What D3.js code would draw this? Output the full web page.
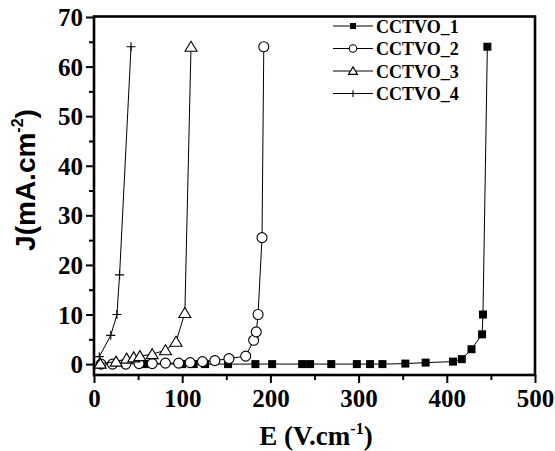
<!DOCTYPE html>
<html>
<head>
<meta charset="utf-8">
<script src="https://cdn.jsdelivr.net/npm/d3@7"></script>
<style>
  body { margin: 0; background: #fff; }
  svg { display: block; }
  .tick text { font-family: "Liberation Serif", "Times New Roman", serif; font-weight: bold; }
</style>
</head>
<body>
<div class="chartCont"></div>
<script>
var w = 555;
var h = 451;

// data: E (V/cm) and J (mA/cm2)
const seriesNames = ["CCTVO_1", "CCTVO_2", "CCTVO_3", "CCTVO_4"];

const e1 = [57, 100, 113, 126, 152, 183, 202, 236, 245, 269, 298, 313, 327, 353, 376, 407, 417, 428, 440, 441, 446];
const j1 = [0, 0, 0, 0, 0, 0, 0, 0, 0, 0, 0, 0, 0, 0.1, 0.3, 0.5, 1.0, 3.0, 6.0, 10, 64];

const e2 = [8, 21, 36, 51, 66, 81, 96, 109, 123, 137, 153, 172, 181, 184, 186, 190.5, 192.5];
const j2 = [0, 0, 0, 0.1, 0.1, 0.2, 0.2, 0.3, 0.5, 0.7, 1.1, 1.6, 4.8, 6.5, 10, 25.5, 64];

const e3 = [7, 25, 37, 45, 52, 66, 81, 93, 103, 110];
const j3 = [0.1, 0.5, 1.1, 1.35, 1.6, 2.0, 2.8, 4.5, 10.3, 64];

const e4 = [6, 19, 26, 29, 42];
const j4 = [1.5, 5.8, 10, 18, 64];

const xTicks = [0, 100, 200, 300, 400, 500];
const yTicks = [0, 10, 20, 30, 40, 50, 60, 70];

const series = [
  {name: seriesNames[0], e: e1, j: j1, mark: "square"},
  {name: seriesNames[1], e: e2, j: j2, mark: "circle"},
  {name: seriesNames[2], e: e3, j: j3, mark: "triangle"},
  {name: seriesNames[3], e: e4, j: j4, mark: "plus"}
];

var svg = d3.select(".chartCont").append("svg")
    .attr("width", w)
    .attr("height", h);

const x = d3.scaleLinear().domain([0, 500]).range([94, 535]);
const y = d3.scaleLinear().domain([-2.2, 70]).range([375, 17]);

// marker shapes
function markPath(kind, s) {
  if (kind === "triangle") return "M0," + (-5.5 * s) + "L" + (6 * s) + "," + (4.5 * s) + "L" + (-6 * s) + "," + (4.5 * s) + "Z";
  if (kind === "plus") return "M" + (-4.5 * s) + ",0H" + (4.5 * s) + "M0," + (-4.5 * s) + "V" + (4.5 * s);
  return null;
}

function drawMark(g, kind, s) {
  if (kind === "square") {
    g.append("rect").attr("x", -4 * s).attr("y", -4 * s)
      .attr("width", 8 * s).attr("height", 8 * s).attr("fill", "#000");
  } else if (kind === "circle") {
    g.append("circle").attr("r", 5 * s).attr("fill", "#fff")
      .attr("stroke", "#000").attr("stroke-width", 1.1);
  } else {
    g.append("path").attr("d", markPath(kind, s))
      .attr("fill", kind === "triangle" ? "#fff" : "none")
      .attr("stroke", "#000").attr("stroke-width", 1.1);
  }
}

// axes (ticks outward, bottom & left only)
const xAxis = svg.append("g")
    .attr("transform", "translate(0,375)")
    .call(d3.axisBottom(x).tickValues(xTicks).tickSize(8).tickPadding(6).tickFormat(d3.format("d")));
const xMinor = svg.append("g")
    .attr("transform", "translate(0,375)")
    .call(d3.axisBottom(x).tickValues([50, 150, 250, 350, 450]).tickSize(5).tickFormat(""));

const yAxis = svg.append("g")
    .attr("transform", "translate(94,0)")
    .call(d3.axisLeft(y).tickValues(yTicks).tickSize(8).tickPadding(3).tickFormat(d3.format("d")));
const yMinor = svg.append("g")
    .attr("transform", "translate(94,0)")
    .call(d3.axisLeft(y).tickValues([5, 15, 25, 35, 45, 55, 65]).tickSize(5).tickFormat(""));

[xAxis, xMinor, yAxis, yMinor].forEach(a => {
  a.select(".domain").remove();
  a.selectAll(".tick line").attr("stroke", "#000").attr("stroke-width", 2);
});
xAxis.selectAll(".tick text").attr("font-size", 25).attr("fill", "#000");
yAxis.selectAll(".tick text").attr("font-size", 25).attr("fill", "#000").attr("dy", "0.34em");

// frame
svg.append("rect")
    .attr("x", 94).attr("y", 16.5)
    .attr("width", 535 - 94).attr("height", 375 - 16.5)
    .attr("fill", "none")
    .attr("stroke", "#000")
    .attr("stroke-width", 2.6);

// lines then markers
const line = d3.line().x(d => x(d[0])).y(d => y(d[1]));

series.forEach(s => {
  const pts = s.e.map((v, i) => [v, s.j[i]]);
  svg.append("path")
    .datum(pts)
    .attr("d", line)
    .attr("fill", "none")
    .attr("stroke", "#000")
    .attr("stroke-width", 1);
  pts.forEach(p => {
    const g = svg.append("g").attr("transform", "translate(" + x(p[0]) + "," + y(p[1]) + ")");
    drawMark(g, s.mark, 1);
  });
});

// legend
const legend = svg.append("g").attr("transform", "translate(333,26)");
series.forEach((s, i) => {
  const row = legend.append("g").attr("transform", "translate(0," + (i * 22.5) + ")");
  row.append("line").attr("x1", 0).attr("x2", 40).attr("y1", 0).attr("y2", 0)
    .attr("stroke", "#000").attr("stroke-width", 1);
  const m = row.append("g").attr("transform", "translate(20,0)");
  drawMark(m, s.mark, 0.75);
  row.append("text")
    .attr("x", 43).attr("y", 6.5)
    .attr("font-family", "Liberation Serif, Times New Roman, serif")
    .attr("font-weight", "bold")
    .attr("font-size", 18)
    .text(s.name);
});

// axis titles
const xt = svg.append("text")
    .attr("x", 316).attr("y", 445)
    .attr("text-anchor", "middle")
    .attr("font-family", "Liberation Serif, Times New Roman, serif")
    .attr("font-weight", "bold")
    .attr("font-size", 27);
xt.append("tspan").text("E (V.cm");
xt.append("tspan").attr("font-size", 16).attr("dy", -11).text("-1");
xt.append("tspan").attr("dy", 11).text(")");

const yt = svg.append("text")
    .attr("transform", "translate(35,180) rotate(-90)")
    .attr("text-anchor", "middle")
    .attr("font-family", "Liberation Sans, Arial, sans-serif")
    .attr("font-weight", "bold")
    .attr("font-size", 28);
yt.append("tspan").text("J(mA.cm");
yt.append("tspan").attr("font-size", 16).attr("dy", -12).text("-2");
yt.append("tspan").attr("dy", 12).text(")");
</script>
</body>
</html>
